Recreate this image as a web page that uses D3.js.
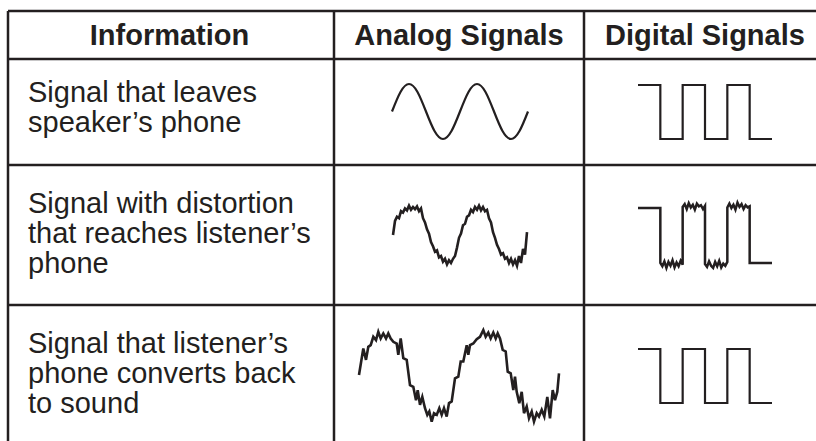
<!DOCTYPE html>
<html>
<head>
<meta charset="utf-8">
<script src="https://cdn.jsdelivr.net/npm/d3@7"></script>
<style>
  html, body { margin: 0; padding: 0; background: #fff; }
  svg { display: block; }
</style>
</head>
<body>
<script>
// ---- table text ----
const headers = ["Information", "Analog Signals", "Digital Signals"];
const infoLines = [
  ["Signal that leaves", "speaker’s phone"],
  ["Signal with distortion", "that reaches listener’s", "phone"],
  ["Signal that listener’s", "phone converts back", "to sound"]
];

// ---- analog signals ----
// clean wave as it leaves the phone: [time in periods, level]
const cleanWave = [
  [0, 0], [0.125, 0.71], [0.25, 1], [0.375, 0.71], [0.5, 0], [0.625, -0.71], [0.75, -1], [0.875, -0.71],
  [1, 0], [1.125, 0.71], [1.25, 1], [1.375, 0.71], [1.5, 0], [1.625, -0.71], [1.75, -1], [1.875, -0.71], [2, 0]
];

// distorted wave, level sampled at equal time steps over two periods
const noisyWave = [
  0.0, 0.5, 0.65, 0.6, 0.85, 0.8, 0.95, 0.88, 1.05, 0.9, 1.0, 0.92, 1.02, 0.85, 0.95, 0.6,
  0.45, 0.2, 0.05, -0.25, -0.4, -0.6, -0.55, -0.8, -0.75, -0.95, -0.85, -1.05, -0.9, -1.0, -0.85, -0.75,
  -0.45, -0.1, 0.05, 0.35, 0.4, 0.65, 0.7, 0.9, 0.82, 1.0, 0.9, 1.05, 0.88, 1.0, 0.85, 0.9,
  0.6, 0.45, 0.1, -0.1, -0.35, -0.5, -0.7, -0.65, -0.85, -0.8, -1.0, -0.85, -1.05, -0.9, -1.1, -0.75,
  -1.0, -0.5, -0.7, 0.1
];

// amplified wave sent to the speaker: [time in periods, level]
const boostedWave = [
  [0, 0], [0.043, 0.63], [0.07, 0.36], [0.093, 0.67], [0.117, 0.71], [0.143, 0.91], [0.17, 0.83],
  [0.193, 1.03], [0.217, 0.87], [0.243, 0.99], [0.27, 0.87], [0.293, 0.99], [0.317, 0.87], [0.343, 0.79],
  [0.377, 0.75], [0.393, 0.48], [0.417, 0.87], [0.443, 0.4], [0.477, 0.36], [0.51, -0.24], [0.543, -0.28],
  [0.57, -0.6], [0.587, -0.36], [0.61, -0.71], [0.633, -0.52], [0.66, -0.79], [0.683, -0.95], [0.703, -0.87],
  [0.727, -1.11], [0.75, -0.91], [0.777, -0.95], [0.803, -0.79], [0.827, -0.95], [0.85, -0.79], [0.877, -0.99],
  [0.9, -0.67], [0.927, -0.63], [0.96, -0.08], [0.993, -0.04], [1.017, 0.32], [1.043, 0.32], [1.077, 0.71],
  [1.093, 0.48], [1.11, 0.71], [1.143, 0.75], [1.177, 0.85], [1.21, 0.91], [1.243, 1.07], [1.267, 0.91],
  [1.293, 1.01], [1.317, 0.87], [1.343, 1.01], [1.367, 0.87], [1.387, 0.99], [1.41, 0.87], [1.437, 0.6],
  [1.467, 0.56], [1.487, 0.08], [1.517, 0.04], [1.543, -0.36], [1.56, -0.04], [1.577, -0.4], [1.603, -0.67],
  [1.627, -0.4], [1.65, -0.91], [1.677, -0.75], [1.7, -1.03], [1.727, -0.87], [1.75, -1.11], [1.777, -0.91],
  [1.8, -0.99], [1.827, -0.83], [1.853, -0.99], [1.883, -0.52], [1.91, -1.03], [1.937, -0.36], [1.96, -0.6],
  [1.983, -0.4], [2, 0.04]
];

// ---- digital signals ----
const digitalBits = [1, 0, 1, 0, 1, 0];
// jitter on each bit of the distorted digital signal (null = clean bit)
const bitNoise = [
  null,
  [0, -0.06, 0.03, -0.09, 0.02, -0.05, 0.05, -0.08, 0.01, -0.06, 0.04, -0.03],
  [0.02, 0.07, -0.02, 0.09, 0.01, 0.06, -0.03, 0.08, 0.03, 0.05, -0.02, 0.04],
  [-0.02, -0.07, 0.03, -0.05, -0.09, 0.02, -0.06, 0.04, -0.08, -0.01, -0.05, 0.02],
  [0.01, 0.08, 0.0, 0.06, -0.03, 0.1, 0.02, 0.07, -0.02, 0.05, 0.01, 0.03],
  null
];

// ---- layout ----
const W = 816, H = 441;
const ink = "#231f20";
const font = "'Liberation Sans', Arial, Helvetica, sans-serif";
const colX = [8, 334, 584, 816];
const rowY = [11, 59, 165, 305];
const headerX = [169.5, 459, 705];
const lineStart = [102, 213, 353];
const lineGap = 30;

const analogCells = [
  {x0: 392, x1: 528, cy: 111.5, amp: 27.5},
  {x0: 393, x1: 527, cy: 235, amp: 28},
  {x0: 359, x1: 559, cy: 375, amp: 42}
];
const digitalCells = [
  {x0: 638, x1: 772, hi: 85, lo: 139},
  {x0: 638, x1: 772, hi: 208, lo: 263},
  {x0: 638, x1: 772, hi: 349, lo: 403}
];

const svg = d3.select("body").append("svg")
  .attr("width", W)
  .attr("height", H);

// grid
const grid = svg.append("g")
  .attr("stroke", ink)
  .attr("stroke-width", 2.5);

grid.selectAll("line.h")
  .data(rowY)
  .enter().append("line")
  .attr("class", "h")
  .attr("x1", colX[0]).attr("x2", W)
  .attr("y1", d => d).attr("y2", d => d);

grid.selectAll("line.v")
  .data(colX.slice(0, 3))
  .enter().append("line")
  .attr("class", "v")
  .attr("x1", d => d).attr("x2", d => d)
  .attr("y1", rowY[0]).attr("y2", H);

// headers
svg.selectAll("text.head")
  .data(headers)
  .enter().append("text")
  .attr("class", "head")
  .attr("x", (d, i) => headerX[i])
  .attr("y", 45)
  .attr("text-anchor", "middle")
  .style("font-family", font)
  .style("font-size", "29px")
  .style("font-weight", "bold")
  .style("fill", ink)
  .text(d => d);

// information column
infoLines.forEach(function(lines, r) {
  svg.selectAll("text.info" + r)
    .data(lines)
    .enter().append("text")
    .attr("class", "info" + r)
    .attr("x", 28)
    .attr("y", (d, i) => lineStart[r] + i * lineGap)
    .style("font-family", font)
    .style("font-size", "29px")
    .style("fill", ink)
    .text(d => d);
});

// analog waves
const noisyPairs = noisyWave.map((v, i) => [i * 2 / (noisyWave.length - 1), v]);
const analogData = [cleanWave, noisyPairs, boostedWave];

analogData.forEach(function(wave, r) {
  const c = analogCells[r];
  const x = d3.scaleLinear().domain([0, 2]).range([c.x0, c.x1]);
  const y = d3.scaleLinear().domain([-1, 1]).range([c.cy + c.amp, c.cy - c.amp]);
  const line = d3.line()
    .x(d => x(d[0]))
    .y(d => y(d[1]))
    .curve(r === 0 ? d3.curveNatural : d3.curveLinear);
  svg.append("path")
    .datum(wave)
    .attr("d", line)
    .attr("fill", "none")
    .attr("stroke", ink)
    .attr("stroke-width", r === 0 ? 2.2 : 2.6)
    .attr("stroke-linejoin", "miter");
});

// digital waves
digitalCells.forEach(function(c, r) {
  const x = d3.scaleLinear().domain([0, digitalBits.length]).range([c.x0, c.x1]);
  const y = d3.scaleLinear().domain([0, 1]).range([c.lo, c.hi]);
  const pts = [];
  digitalBits.forEach(function(b, k) {
    const jit = (r === 1) ? bitNoise[k] : null;
    if (jit) {
      jit.forEach(function(n, j) {
        pts.push([k + j / (jit.length - 1), b + n]);
      });
    } else {
      pts.push([k, b]);
      pts.push([k + 1, b]);
    }
  });
  svg.append("path")
    .datum(pts)
    .attr("d", d3.line().x(d => x(d[0])).y(d => y(d[1])))
    .attr("fill", "none")
    .attr("stroke", ink)
    .attr("stroke-width", r === 1 ? 2.5 : 2.2)
    .attr("stroke-linejoin", "miter");
});
</script>
</body>
</html>
